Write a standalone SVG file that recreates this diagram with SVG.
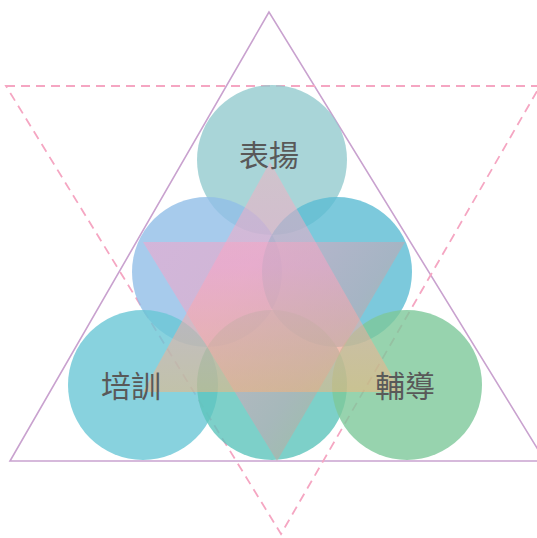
<svg xmlns="http://www.w3.org/2000/svg" width="537" height="538" viewBox="0 0 537 538">
<defs>
<style>
.frame{fill:none;stroke:#c9a2cf;stroke-width:1.6}
.dash{fill:none;stroke:#f5a6c2;stroke-width:1.8;stroke-dasharray:9 6}
.c{opacity:0.8}
.lbl{font-family:"Noto Sans CJK TC","Noto Sans CJK SC",sans-serif;font-size:30px;fill:#595959;text-anchor:middle}
.tri{opacity:0.5}
</style>
<linearGradient id="gUp" x1="0" y1="0" x2="0" y2="1">
<stop offset="0" stop-color="#f5b2c0"/>
<stop offset="0.45" stop-color="#ffa2c4"/>
<stop offset="1" stop-color="#fbb276"/>
</linearGradient>
<linearGradient id="gDown" x1="0" y1="0" x2="1" y2="0.6">
<stop offset="0" stop-color="#ffa0c8"/>
<stop offset="0.35" stop-color="#f8a2c0"/>
<stop offset="0.72" stop-color="#d0a0ac"/>
<stop offset="0.84" stop-color="#c4a898"/>
</linearGradient>
</defs>
<g id="connectors">
<polygon class="frame" points="269,12 10,461 545,461"/>
<polygon class="dash" points="6,86 540,86 281,534"/>
</g>
<g id="circle-top"><circle class="c" cx="272" cy="160" r="75" fill="#94cbce"/></g>
<g id="circle-mid-left"><circle class="c" cx="207" cy="272" r="75" fill="#91bee7"/></g>
<g id="circle-mid-right"><circle class="c" cx="337" cy="272" r="75" fill="#5bbbd3"/></g>
<g id="circle-bottom-left"><circle class="c" cx="143" cy="385" r="75" fill="#6ac7d6"/></g>
<g id="circle-bottom-mid"><circle class="c" cx="272" cy="385" r="75" fill="#5cc4bb"/></g>
<g id="circle-bottom-right"><circle class="c" cx="407" cy="385" r="75" fill="#7dc89a"/></g>
<g id="hexagram">
<polygon class="tri" points="143,242 405,242 277,461" fill="url(#gDown)"/>
<polygon class="tri" points="270,162 143,392 401,392" fill="url(#gUp)"/>
</g>
<g id="labels">
<text class="lbl" x="269" y="166">表揚</text>
<text class="lbl" x="131" y="397">培訓</text>
<text class="lbl" x="405" y="397">輔導</text>
</g>
</svg>
